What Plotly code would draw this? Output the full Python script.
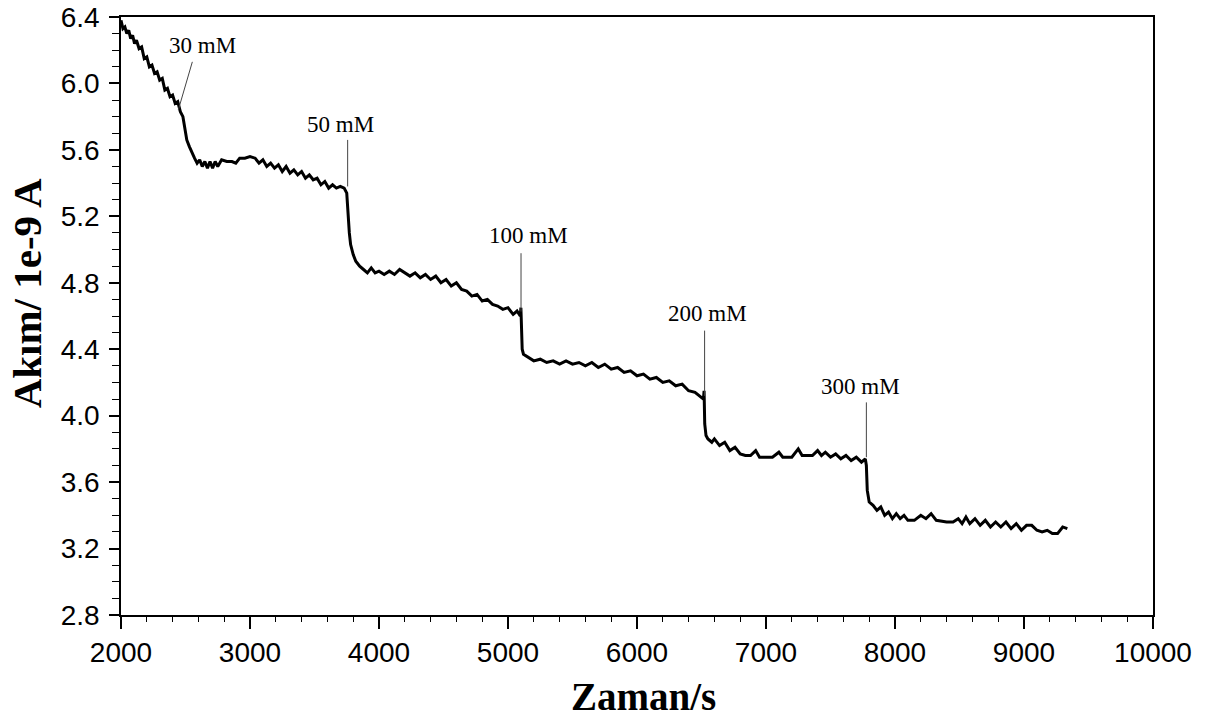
import plotly.graph_objects as go

# Chronoamperometric current trace (time in s, current in 1e-9 A)
time_s = [
    2000, 2015, 2030, 2045, 2060, 2075, 2090, 2105, 2120, 2140, 2160, 2180, 2200, 2220, 2240,
    2260, 2280, 2300, 2320, 2340, 2360, 2380, 2400, 2420, 2440, 2460, 2480, 2495, 2510, 2530,
    2550, 2570, 2590, 2610, 2630, 2650, 2670, 2690, 2710, 2730, 2750, 2780, 2820, 2860, 2890,
    2920, 2960, 3000, 3040, 3070, 3100, 3130, 3160, 3190, 3220, 3250, 3280, 3310, 3340, 3370,
    3400, 3430, 3460, 3490, 3520, 3550, 3580, 3610, 3640, 3670, 3700, 3730, 3750, 3760, 3770,
    3780, 3800, 3820, 3850, 3880, 3910, 3940, 3970, 4000, 4040, 4080, 4120, 4160, 4200, 4240,
    4280, 4320, 4360, 4400, 4440, 4480, 4520, 4560, 4600, 4640, 4680, 4720, 4760, 4800, 4840,
    4880, 4920, 4960, 5000, 5040, 5070, 5095, 5100, 5105, 5110, 5120, 5140, 5150, 5200, 5250,
    5300, 5350, 5400, 5450, 5500, 5550, 5600, 5650, 5700, 5750, 5800, 5850, 5900, 5950, 6000,
    6050, 6100, 6150, 6200, 6250, 6300, 6350, 6400, 6450, 6500, 6515, 6520, 6525, 6535, 6550,
    6580, 6600, 6640, 6680, 6720, 6760, 6800, 6840, 6880, 6920, 6950, 7000, 7050, 7100, 7130,
    7200, 7250, 7280, 7320, 7360, 7400, 7430, 7460, 7500, 7540, 7580, 7620, 7660, 7700, 7740,
    7770, 7778, 7785, 7800, 7830, 7860, 7890, 7920, 7950, 7980, 8010, 8040, 8070, 8100, 8150,
    8200, 8240, 8280, 8320, 8400, 8450, 8490, 8520, 8550, 8580, 8620, 8660, 8700, 8740, 8780,
    8820, 8860, 8900, 8940, 8980, 9020, 9060, 9100, 9140, 9180, 9220, 9260, 9300, 9336,
]
current_nA = [
    6.38, 6.33, 6.34, 6.30, 6.32, 6.27, 6.29, 6.24, 6.26, 6.21, 6.22, 6.15, 6.16, 6.10, 6.11,
    6.06, 6.07, 6.02, 6.03, 5.96, 5.97, 5.92, 5.93, 5.88, 5.89, 5.83, 5.80, 5.72, 5.66, 5.62,
    5.58, 5.55, 5.52, 5.54, 5.50, 5.53, 5.49, 5.53, 5.49, 5.53, 5.50, 5.54, 5.53, 5.53, 5.52,
    5.55, 5.55, 5.56, 5.55, 5.52, 5.54, 5.50, 5.52, 5.49, 5.51, 5.47, 5.50, 5.46, 5.48, 5.45,
    5.47, 5.43, 5.45, 5.42, 5.43, 5.39, 5.41, 5.37, 5.39, 5.37, 5.38, 5.37, 5.34, 5.20, 5.10,
    5.03, 4.97, 4.93, 4.90, 4.88, 4.86, 4.89, 4.86, 4.87, 4.85, 4.87, 4.85, 4.88, 4.86, 4.84,
    4.86, 4.83, 4.85, 4.82, 4.84, 4.80, 4.82, 4.78, 4.80, 4.76, 4.75, 4.72, 4.73, 4.69, 4.70,
    4.67, 4.66, 4.64, 4.65, 4.61, 4.63, 4.60, 4.65, 4.50, 4.40, 4.37, 4.36, 4.35, 4.33, 4.34,
    4.32, 4.33, 4.31, 4.33, 4.31, 4.32, 4.30, 4.32, 4.29, 4.31, 4.28, 4.29, 4.26, 4.27, 4.24,
    4.25, 4.22, 4.23, 4.20, 4.21, 4.18, 4.19, 4.15, 4.14, 4.11, 4.10, 4.15, 3.95, 3.88, 3.86,
    3.84, 3.86, 3.82, 3.84, 3.79, 3.81, 3.77, 3.76, 3.76, 3.79, 3.75, 3.75, 3.75, 3.78, 3.75,
    3.75, 3.80, 3.76, 3.76, 3.76, 3.79, 3.76, 3.78, 3.75, 3.77, 3.74, 3.76, 3.73, 3.75, 3.72,
    3.74, 3.70, 3.55, 3.48, 3.46, 3.43, 3.45, 3.40, 3.42, 3.38, 3.41, 3.38, 3.40, 3.37, 3.37,
    3.40, 3.38, 3.41, 3.37, 3.36, 3.36, 3.38, 3.35, 3.39, 3.35, 3.38, 3.34, 3.37, 3.33, 3.36,
    3.33, 3.36, 3.32, 3.35, 3.31, 3.34, 3.34, 3.31, 3.30, 3.31, 3.29, 3.29, 3.33, 3.32,
]

# Concentration additions: label text, label centre, and the leader line
add_labels = ["30 mM", "50 mM", "100 mM", "200 mM", "300 mM"]
label_t = [2630, 3700, 5157, 6544, 7730]
label_i = [6.23, 5.75, 5.087, 4.615, 4.173]
leader_t0 = [2553, 3757, 5101, 6524, 7778]
leader_i0 = [6.13, 5.66, 4.978, 4.512, 4.08]
leader_t1 = [2444, 3757, 5101, 6524, 7778]
leader_i1 = [5.84, 5.38, 4.627, 4.119, 3.75]

x_ticks = list(range(2000, 10001, 1000))
y_ticks = [2.8, 3.2, 3.6, 4.0, 4.4, 4.8, 5.2, 5.6, 6.0, 6.4]

fig = go.Figure()
fig.add_trace(go.Scatter(
    x=time_s, y=current_nA, mode="lines",
    line=dict(color="black", width=3), showlegend=False, hoverinfo="skip",
))

for t0, i0, t1, i1 in zip(leader_t0, leader_i0, leader_t1, leader_i1):
    fig.add_shape(type="line", xref="x", yref="y", x0=t0, y0=i0, x1=t1, y1=i1,
                  line=dict(color="#444444", width=1))

for txt, t, i in zip(add_labels, label_t, label_i):
    fig.add_annotation(x=t, y=i, text=txt, showarrow=False, xref="x", yref="y",
                       font=dict(family="Liberation Serif", size=23, color="black"))

# Axis titles placed as free text
fig.add_annotation(x=-0.091, y=0.538, xref="paper", yref="paper", text="<b>Akım/ 1e-9 A</b>",
                   textangle=-90, showarrow=False, xanchor="center", yanchor="middle",
                   font=dict(family="Liberation Serif", size=41, color="black"))
fig.add_annotation(x=0.506, y=-0.137, xref="paper", yref="paper", text="<b>Zaman/s</b>",
                   showarrow=False, xanchor="center", yanchor="middle",
                   font=dict(family="Liberation Serif", size=39, color="black"))

tick_font = dict(family="Liberation Sans", size=28, color="black")
fig.update_xaxes(
    range=[2000, 10000], tickvals=x_ticks, ticktext=[str(v) for v in x_ticks],
    ticks="outside", ticklen=12, tickwidth=1.5, tickcolor="black",
    minor=dict(dtick=200, ticks="outside", ticklen=5, tickwidth=1.2, tickcolor="black"),
    showline=True, linecolor="black", linewidth=1.5, mirror=True,
    showgrid=False, zeroline=False, tickfont=tick_font, automargin=False,
)
fig.update_yaxes(
    range=[2.8, 6.4], tickvals=y_ticks, ticktext=[f"{v:.1f}" for v in y_ticks],
    ticks="outside", ticklen=10, tickwidth=1.5, tickcolor="black",
    minor=dict(dtick=0.1, ticks="outside", ticklen=7, tickwidth=1.2, tickcolor="black"),
    showline=True, linecolor="black", linewidth=1.5, mirror=True,
    showgrid=False, zeroline=False, tickfont=tick_font, ticklabelstandoff=4,
    automargin=False,
)
fig.update_layout(
    width=1205, height=720,
    margin=dict(l=121, r=52, t=17, b=105),
    paper_bgcolor="white", plot_bgcolor="white",
)
fig.write_html("out.html")
